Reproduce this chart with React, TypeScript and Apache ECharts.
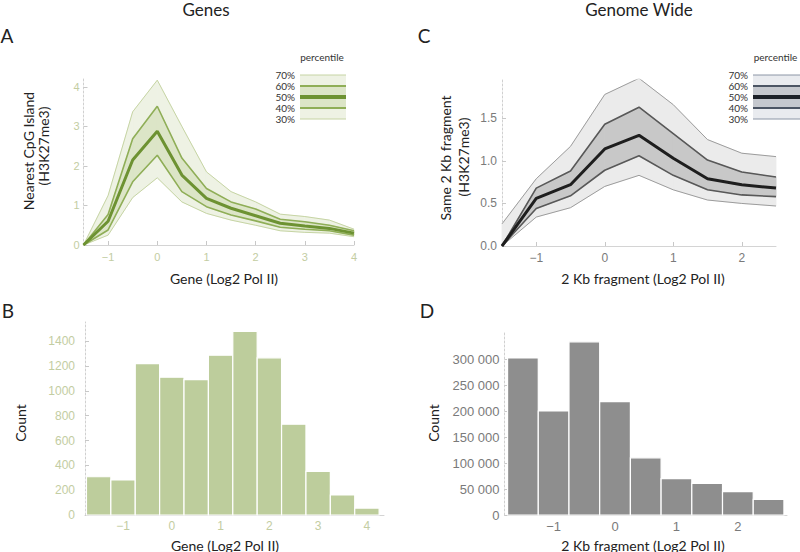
import React, { useEffect, useRef } from 'react';
import * as echarts from 'echarts';

// ---------- Data ----------
const xGene = [-1.5, -1, -0.5, 0, 0.5, 1, 1.5, 2, 2.5, 3, 3.5, 4];
const gene30 = [0, 0.25, 1.2, 1.7, 1.09, 0.8, 0.63, 0.5, 0.36, 0.32, 0.3, 0.21];
const gene40 = [0, 0.38, 1.6, 2.27, 1.35, 0.97, 0.76, 0.61, 0.45, 0.4, 0.36, 0.25];
const gene50 = [0, 0.6, 2.15, 2.88, 1.77, 1.18, 0.93, 0.74, 0.55, 0.48, 0.42, 0.3];
const gene60 = [0, 0.77, 2.69, 3.51, 2.2, 1.43, 1.09, 0.91, 0.65, 0.59, 0.5, 0.36];
const gene70 = [0, 1.25, 3.37, 4.17, 3.0, 1.85, 1.35, 1.09, 0.78, 0.72, 0.63, 0.4];

const xFrag = [-1.5, -1, -0.5, 0, 0.5, 1, 1.5, 2, 2.5];
const frag30 = [0, 0.34, 0.45, 0.7, 0.83, 0.66, 0.54, 0.5, 0.47];
const frag40 = [0, 0.44, 0.59, 0.89, 1.06, 0.83, 0.66, 0.6, 0.58];
const frag50 = [0, 0.56, 0.72, 1.14, 1.3, 1.03, 0.79, 0.72, 0.68];
const frag60 = [0, 0.68, 0.88, 1.43, 1.63, 1.32, 1.01, 0.87, 0.81];
const frag70 = [0.26, 0.79, 1.17, 1.78, 1.97, 1.66, 1.25, 1.09, 1.05];

const geneBins = [-1.5, -1, -0.5, 0, 0.5, 1, 1.5, 2, 2.5, 3, 3.5, 4];
const geneCounts = [308, 282, 1220, 1110, 1091, 1287, 1480, 1266, 732, 351, 161, 56];

const fragBins = [-1.5, -1, -0.5, 0, 0.5, 1, 1.5, 2, 2.5];
const fragCounts = [302000, 200000, 333000, 218000, 110000, 70000, 61000, 45000, 30000];

const binWidth = 0.5;

const geneXTicks = [-1, 0, 1, 2, 3, 4];
const geneYTicks = [0, 1, 2, 3, 4];
const fragXTicks = [-1, 0, 1, 2];
const fragYTicks = [0, 0.5, 1.0, 1.5];
const geneCountTicks = [0, 200, 400, 600, 800, 1000, 1200, 1400];
const fragCountTicks = [0, 50000, 100000, 150000, 200000, 250000, 300000];
const percentiles = ['70%', '60%', '50%', '40%', '30%'];

// ---------- Helpers ----------
const FONT = 'Lato, "Open Sans", sans-serif';
const TICKFONT = '"Liberation Sans", Arial, sans-serif';
const minus = (v: number) => (v < 0 ? '\u2212' + Math.abs(v) : String(v));
const pairs = (xs: number[], ys: number[]) => xs.map((x, i) => [x, ys[i]]);

// band between lo and hi drawn segment by segment through the axis scales
function bandSeries(idx: number, xs: number[], lo: number[], hi: number[], fill: string) {
  const data = xs.slice(0, -1).map((x, i) => [x, lo[i], hi[i], xs[i + 1], lo[i + 1], hi[i + 1]]);
  return {
    type: 'custom', xAxisIndex: idx, yAxisIndex: idx, data, silent: true,
    encode: { x: [0, 3], y: [1, 2, 4, 5] },
    renderItem: (params: any, api: any) => {
      const a = api.coord([api.value(0), api.value(1)]);
      const b = api.coord([api.value(3), api.value(4)]);
      const c = api.coord([api.value(3), api.value(5)]);
      const d = api.coord([api.value(0), api.value(2)]);
      return {
        type: 'polygon',
        shape: { points: [a, b, c, d] },
        style: { fill, stroke: fill, lineWidth: 0.8 },
      };
    },
  };
}
function lineSeries(idx: number, xs: number[], ys: number[], color: string, width: number) {
  return {
    type: 'line', xAxisIndex: idx, yAxisIndex: idx, data: pairs(xs, ys),
    symbol: 'none', silent: true, lineStyle: { color, width }, z: 3,
  };
}
function histSeries(idx: number, xs: number[], ys: number[], fill: string) {
  return {
    type: 'custom', xAxisIndex: idx, yAxisIndex: idx, data: pairs(xs, ys),
    encode: { x: 0, y: 1 }, silent: true,
    renderItem: (params: any, api: any) => {
      const c = api.value(0);
      const v = api.value(1);
      const p0 = api.coord([c - binWidth / 2, v]);
      const p1 = api.coord([c + binWidth / 2, 0]);
      return {
        type: 'rect',
        shape: { x: p0[0], y: p0[1], width: p1[0] - p0[0], height: p1[1] - p0[1] },
        style: { fill, stroke: '#ffffff', lineWidth: 1.2 },
      };
    },
  };
}

function xAxisDef(idx: number, min: number, max: number, ticks: number[], color: string, size: number, margin: number) {
  return {
    type: 'value', gridIndex: idx, min, max,
    axisLine: { show: true, onZero: false, lineStyle: { color: '#d4d4d4', width: 1 } },
    axisTick: { show: true, inside: true, length: 4, customValues: ticks, lineStyle: { color: '#c8c8c8' } },
    axisLabel: { customValues: ticks, formatter: (v: number) => minus(v), color, fontSize: size, fontFamily: TICKFONT, margin },
    splitLine: { show: false },
  };
}
function yAxisDef(idx: number, min: number, max: number, ticks: number[], color: string, size: number, margin: number, fmt: (v: number) => string) {
  return {
    type: 'value', gridIndex: idx, min, max,
    axisLine: { show: true, onZero: false, lineStyle: { color: '#d0d0d0', width: 1, type: [2, 2] } },
    axisTick: { show: true, inside: true, length: 4, customValues: ticks, lineStyle: { color: '#c8c8c8' } },
    axisLabel: { customValues: ticks, formatter: fmt, color, fontSize: size, fontFamily: TICKFONT, margin },
    splitLine: { show: false },
  };
}

function txt(text: string, x: number, y: number, size: number, opts: any = {}) {
  return {
    type: 'text', x, y, rotation: opts.rotation || 0, silent: true, z: 10,
    style: {
      text, fontSize: size, fontFamily: opts.font || FONT, fill: opts.color || '#222',
      align: opts.align || 'center', verticalAlign: 'middle', lineHeight: size,
    },
  };
}

function legend(labelRight: number, lineX0: number, lineX1: number, top: number, colors: any) {
  const ys = [75, 86, 97, 108, 119];
  const els: any[] = [];
  els.push({ type: 'rect', silent: true, z: 9, shape: { x: lineX0, y: ys[0], width: lineX1 - lineX0, height: ys[4] - ys[0] }, style: { fill: colors.outerFill } });
  els.push({ type: 'rect', silent: true, z: 9, shape: { x: lineX0, y: ys[1], width: lineX1 - lineX0, height: ys[3] - ys[1] }, style: { fill: colors.innerFill } });
  const lc = [colors.outer, colors.inner, colors.mid, colors.inner, colors.outer];
  const lw = [1, 2, 4, 2, 1];
  ys.forEach((y, i) => {
    els.push({ type: 'line', silent: true, z: 9, shape: { x1: lineX0, y1: y, x2: lineX1, y2: y }, style: { stroke: lc[i], lineWidth: lw[i] } });
    els.push(txt(percentiles[i], labelRight, y, 10, { align: 'right', color: '#333' }));
  });
  els.push(txt('percentile', (lineX0 + lineX1) / 2 - 1, top, 10, { color: '#333' }));
  return els;
}

// ---------- Colours ----------
const G = { outerFill: '#eef2e4', innerFill: '#dce5c7', outer: '#c6d4a4', inner: '#8fae57', mid: '#6d9232' };
const K = { outerFill: '#ebebeb', innerFill: '#c8c8c8', outer: '#9c9c9c', inner: '#585858', mid: '#1e1e1e' };
const KL = { outerFill: '#e9ebef', innerFill: '#c5c8ce', outer: '#8c96a6', inner: '#4c5564', mid: '#1d2229' };

export default function App() {
  const ref = useRef<HTMLDivElement>(null);
  useEffect(() => {
    if (!ref.current) return;
    document.body.style.margin = '0';
    const chart = echarts.init(ref.current, undefined, { renderer: 'svg' });
    const option: any = {
      animation: false,
      backgroundColor: '#ffffff',
      grid: [
        { left: 83.5, right: 446, top: 79, bottom: 307 },
        { left: 85, right: 416, top: 322, bottom: 37 },
        { left: 502, right: 24, top: 80, bottom: 306 },
        { left: 504.5, right: 13, top: 333, bottom: 37 },
      ],
      xAxis: [
        xAxisDef(0, -1.5, 4, geneXTicks, '#c3cda2', 11, 6),
        xAxisDef(1, -1.78, 4.35, geneXTicks, '#c3cda2', 12, 5),
        xAxisDef(2, -1.5, 2.5, fragXTicks, '#7a7a7a', 12, 6),
        xAxisDef(3, -1.8, 2.8, fragXTicks, '#7a7a7a', 13, 5),
      ],
      yAxis: [
        yAxisDef(0, 0, 4.2, geneYTicks, '#c3cda2', 11, 4, (v) => String(v)),
        yAxisDef(1, 0, 1555, geneCountTicks, '#c3cda2', 12, 10, (v) => String(v)),
        yAxisDef(2, 0, 1.95, fragYTicks, '#7a7a7a', 12, 5, (v) => v.toFixed(1)),
        yAxisDef(3, 0, 350000, fragCountTicks, '#7a7a7a', 13, 5, (v) => (v === 0 ? '0' : (v / 1000) + ' 000')),
      ],
      series: [
        bandSeries(0, xGene, gene30, gene70, G.outerFill),
        bandSeries(0, xGene, gene40, gene60, G.innerFill),
        lineSeries(0, xGene, gene70, G.outer, 1),
        lineSeries(0, xGene, gene30, G.outer, 1),
        lineSeries(0, xGene, gene60, G.inner, 1.6),
        lineSeries(0, xGene, gene40, G.inner, 1.6),
        lineSeries(0, xGene, gene50, G.mid, 3),
        histSeries(1, geneBins, geneCounts, '#bdcd9c'),
        bandSeries(2, xFrag, frag30, frag70, K.outerFill),
        bandSeries(2, xFrag, frag40, frag60, K.innerFill),
        lineSeries(2, xFrag, frag70, K.outer, 1),
        lineSeries(2, xFrag, frag30, K.outer, 1),
        lineSeries(2, xFrag, frag60, K.inner, 1.6),
        lineSeries(2, xFrag, frag40, K.inner, 1.6),
        lineSeries(2, xFrag, frag50, K.mid, 3),
        histSeries(3, fragBins, fragCounts, '#8e8e8e'),
      ],
      graphic: [
        txt('Genes', 206, 9, 17),
        txt('Genome Wide', 639, 9, 17),
        txt('A', 7, 35, 19),
        txt('B', 8, 310, 19),
        txt('C', 424, 35, 19),
        txt('D', 427, 310, 19),
        txt('Gene (Log2 Pol II)', 224, 278, 14),
        txt('Gene (Log2 Pol II)', 225, 545, 14),
        txt('2 Kb fragment (Log2 Pol II)', 643, 278, 14),
        txt('2 Kb fragment (Log2 Pol II)', 643, 545, 14),
        txt('Nearest CpG Island', 28, 151, 14, { rotation: Math.PI / 2 }),
        txt('(H3K27me3)', 43, 146, 14, { rotation: Math.PI / 2 }),
        txt('Same 2 Kb fragment', 445, 158, 14, { rotation: Math.PI / 2 }),
        txt('(H3K27me3)', 463, 157, 14, { rotation: Math.PI / 2 }),
        txt('Count', 20, 423, 14, { rotation: Math.PI / 2 }),
        txt('Count', 433, 423, 14, { rotation: Math.PI / 2 }),
        ...legend(295, 300, 346, 57, G),
        ...legend(748, 753, 800, 57, KL),
      ],
    };
    chart.setOption(option);
    return () => chart.dispose();
  }, []);
  return <div ref={ref} style={{ position: 'fixed', left: 0, top: 0, width: 800, height: 552 }} />;
}
